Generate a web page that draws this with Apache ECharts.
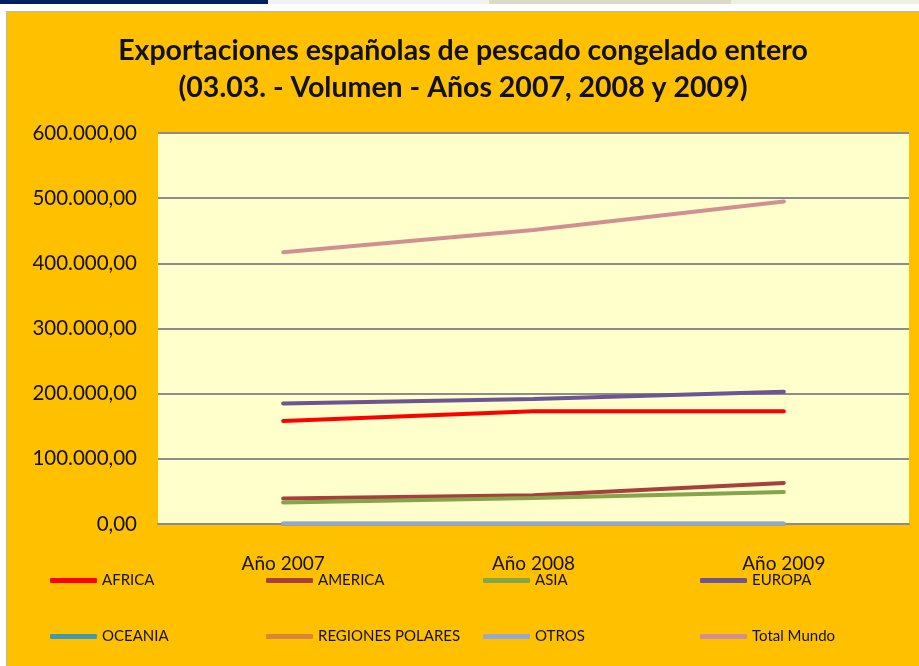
<!DOCTYPE html>
<html>
<head>
<meta charset="utf-8">
<script src="https://cdn.jsdelivr.net/npm/echarts@6/dist/echarts.min.js"></script>
<style>
  html, body { margin: 0; padding: 0; background: #ffffff; width: 919px; height: 666px; overflow: hidden; }
  .strip { position: absolute; top: 0; height: 4px; }
  #chart {
    position: absolute; left: 6px; top: 11px; width: 912px; height: 654px;
    background: #FFC000; border: 1px solid #B9B9B9; border-right: none; border-bottom: none;
  }
</style>
</head>
<body>
<div class="strip" style="left:0;width:268px;background:#002060"></div>
<div class="strip" style="left:268px;width:221px;background:#F2F2F2"></div>
<div class="strip" style="left:489px;width:242px;background:#DDD9C3"></div>
<div class="strip" style="left:731px;width:188px;background:#EBF1DE"></div>
<div id="chart"></div>
<script>
// datos
const years = ['Año 2007', 'Año 2008', 'Año 2009']
const yTicks = [0, 100000, 200000, 300000, 400000, 500000, 600000]
const africa = [158000, 173000, 173000]
const america = [39000, 44000, 63000]
const asia = [33000, 40000, 49000]
const europa = [185000, 192000, 203000]
const oceania = [300, 300, 300]
const regionesPolares = [100, 100, 100]
const otros = [600, 600, 600]
const totalMundo = [417000, 451000, 495000]

const seriesDefs = [
  { name: 'AFRICA', data: africa, color: '#FF0000' },
  { name: 'AMERICA', data: america, color: '#A5403D' },
  { name: 'ASIA', data: asia, color: '#86A44A' },
  { name: 'EUROPA', data: europa, color: '#6D5492' },
  { name: 'OCEANIA', data: oceania, color: '#4299B0' },
  { name: 'REGIONES POLARES', data: regionesPolares, color: '#DB843D' },
  { name: 'OTROS', data: otros, color: '#93A9CF' },
  { name: 'Total Mundo', data: totalMundo, color: '#D09093' },
]

const font = 'Lato, "Open Sans", sans-serif'

const fmt = (v) => {
  const s = String(Math.round(v)).replace(/\B(?=(\d{3})+(?!\d))/g, '.')
  return s + ',00'
}

// una leyenda por elemento, 4 columnas x 2 filas
const legendLeft = [43, 259, 476, 693]
const legendTop = [561, 617]
const legends = seriesDefs.map((s, i) => ({
  data: [s.name],
  left: legendLeft[i % 4],
  top: legendTop[Math.floor(i / 4)],
  padding: 0,
  icon: 'roundRect',
  itemWidth: 47,
  itemHeight: 5,
  selectedMode: false,
  textStyle: { fontFamily: font, fontSize: 15, color: '#111' },
}))

const chart = echarts.init(document.getElementById('chart'))
chart.setOption({
  animation: false,
  title: {
    text: 'Exportaciones españolas de pescado congelado entero\n(03.03. - Volumen - Años 2007, 2008 y 2009)',
    left: 'center',
    top: 15,
    textStyle: { fontFamily: font, fontSize: 28.5, fontWeight: 'bold', color: '#111', lineHeight: 37 },
  },
  legend: legends,
  grid: {
    left: 151, top: 121, right: 10, bottom: 142,
    show: true, backgroundColor: '#FFFFCC', borderWidth: 0,
  },
  xAxis: {
    type: 'category',
    data: years,
    boundaryGap: true,
    axisLine: { show: true, lineStyle: { color: '#8C8C8C', width: 2 } },
    axisTick: { show: false },
    axisLabel: { fontFamily: font, fontSize: 19, color: '#111', margin: 30 },
  },
  yAxis: {
    type: 'value',
    min: yTicks[0],
    max: yTicks[yTicks.length - 1],
    interval: yTicks[1] - yTicks[0],
    axisLine: { show: false },
    axisTick: { show: false },
    splitLine: { lineStyle: { color: '#8C8C8C', width: 2 } },
    axisLabel: { fontFamily: font, fontSize: 20.5, color: '#111', margin: 21, formatter: fmt },
  },
  series: seriesDefs.map((s) => ({
    name: s.name,
    type: 'line',
    data: s.data,
    symbol: 'none',
    color: s.color,
    lineStyle: { width: 4, color: s.color, cap: 'round' },
  })),
})
</script>
</body>
</html>
